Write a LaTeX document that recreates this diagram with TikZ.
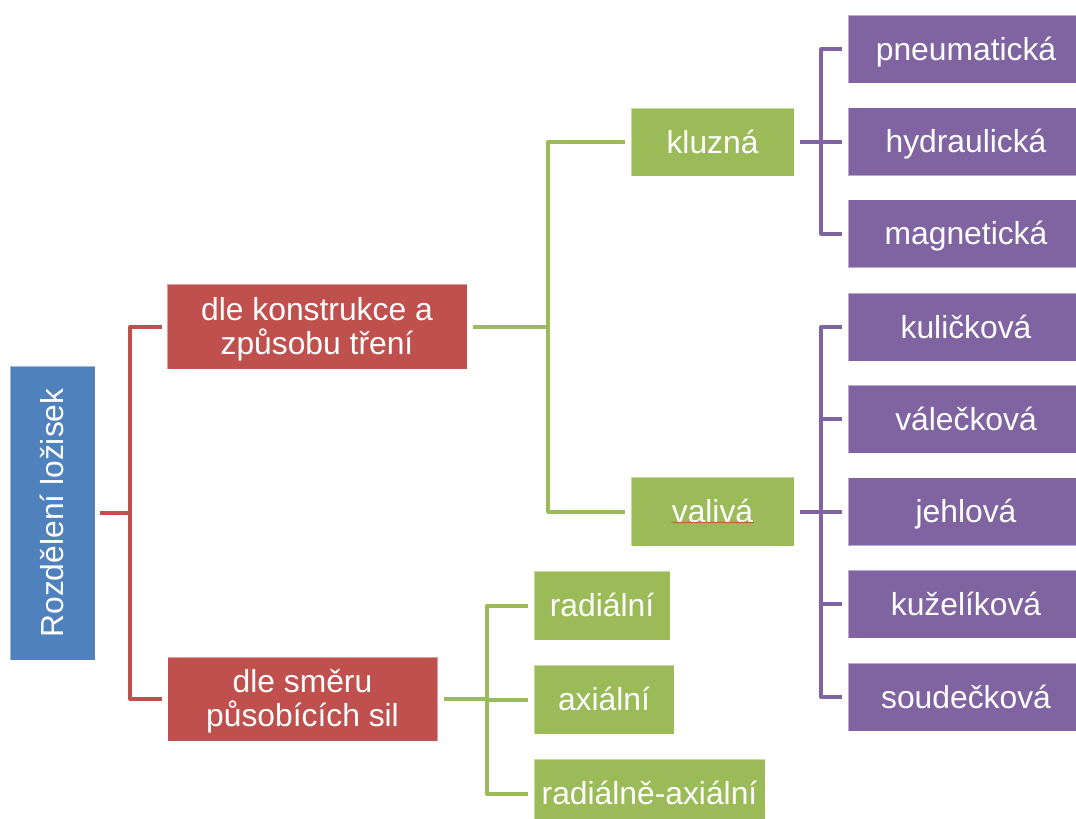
\documentclass[tikz,border=0pt]{standalone}
\usepackage{fontspec}
\setmainfont{Liberation Sans}
\usetikzlibrary{decorations.pathmorphing}
\definecolor{rootblue}{HTML}{4F81BD}
\definecolor{lvlred}{HTML}{C0504D}
\definecolor{lvlgreen}{HTML}{9BBB59}
\definecolor{lvlpurple}{HTML}{8064A2}
\begin{document}
\begin{tikzpicture}[x=1pt,y=-1pt,
  box/.style={rectangle, inner sep=0pt, text=white, align=center,
    font=\fontsize{31.8}{34}\selectfont,
    draw=white, draw opacity=0.45, line width=0.8pt},
  oneline/.style={text height=28.8pt, text depth=6.7pt},
  twolines/.style={text height=61.8pt, text depth=6.7pt},
  rootbox/.style={box, fill=rootblue},
  redbox/.style={box, twolines, fill=lvlred},
  greenbox/.style={box, oneline, fill=lvlgreen},
  purplebox/.style={box, oneline, fill=lvlpurple, minimum width=236pt, minimum height=68pt},
  link/.style={line width=4pt, line join=round, line cap=butt},
  redlink/.style={link, draw=lvlred},
  greenlink/.style={link, draw=lvlgreen},
  purplelink/.style={link, draw=lvlpurple},
]
\useasboundingbox (0,0) rectangle (1076,819);
\clip (0,0) rectangle (1076,819);

% root
\node[rootbox, minimum width=85pt, minimum height=294pt] (root) at (52.5,513) {};
\node[rotate=90, text=white, inner sep=0pt, oneline, font=\fontsize{31.8}{36}\selectfont]
  (roottext) at (root.center) {Rozdělení ložisek};

% first level
\node[redbox, minimum width=300pt, minimum height=85pt] (r1) at (317,326.5)
  {dle konstrukce a\\způsobu tření};
\node[redbox, minimum width=270pt, minimum height=84pt] (r2) at (302.5,699)
  {dle směru\\působících sil};

% second level
\node[greenbox, minimum width=163pt, minimum height=68pt] (g1) at (712.5,142) {kluzná};
\node[greenbox, minimum width=163pt, minimum height=69pt] (g2) at (712.5,511.5) {valivá};
\node[greenbox, minimum width=136pt, minimum height=69pt] (g3) at (602,605.5) {radiální};
\node[greenbox, minimum width=140pt, minimum height=69pt] (g4) at (604,699.5) {axiální};
\node[greenbox, minimum width=231pt, minimum height=69pt] (g5) at (649.5,793.5) {radiálně-axiální};

% third level
\node[purplebox] (p1) at (966,49)    {pneumatická};
\node[purplebox] (p2) at (966,141.5) {hydraulická};
\node[purplebox] (p3) at (966,233.5) {magnetická};
\node[purplebox] (p4) at (966,327)   {kuličková};
\node[purplebox] (p5) at (966,419)   {válečková};
\node[purplebox] (p6) at (966,511.5) {jehlová};
\node[purplebox] (p7) at (966,604)   {kuželíková};
\node[purplebox] (p8) at (966,697)   {soudečková};

% spell-check mark under "valivá"
\draw[draw=lvlred!85!orange, line width=0.8pt, decorate,
  decoration={snake, amplitude=0.5pt, segment length=3pt}]
  ([shift={(-41pt,-11pt)}]g2.center) -- ([shift={(41pt,-11pt)}]g2.center);

% connectors
\draw[redlink] ([xshift=5pt]root.east) -- ([xshift=35pt]root.east) |- ([xshift=-5pt]r1.west);
\draw[redlink] ([xshift=35pt]root.east) |- ([xshift=-5pt]r2.west);

\draw[greenlink] ([xshift=6pt]r1.east) -- ([xshift=81pt]r1.east) |- ([xshift=-6pt]g1.west);
\draw[greenlink] ([xshift=81pt]r1.east) |- ([xshift=-6pt]g2.west);

\draw[greenlink] ([xshift=6pt]r2.east) -- ([xshift=49pt]r2.east) |- ([xshift=-6pt]g3.west);
\draw[greenlink] ([xshift=49pt]r2.east) |- ([xshift=-6pt]g4.west);
\draw[greenlink] ([xshift=49pt]r2.east) |- ([xshift=-6pt]g5.west);

\foreach \c in {p1,p2,p3}
  \draw[purplelink] ([xshift=6pt]g1.east) -- ([xshift=27pt]g1.east) |- ([xshift=-6pt]\c.west);
\foreach \c in {p4,p5,p6,p7,p8}
  \draw[purplelink] ([xshift=6pt]g2.east) -- ([xshift=27pt]g2.east) |- ([xshift=-6pt]\c.west);
\end{tikzpicture}
\end{document}
